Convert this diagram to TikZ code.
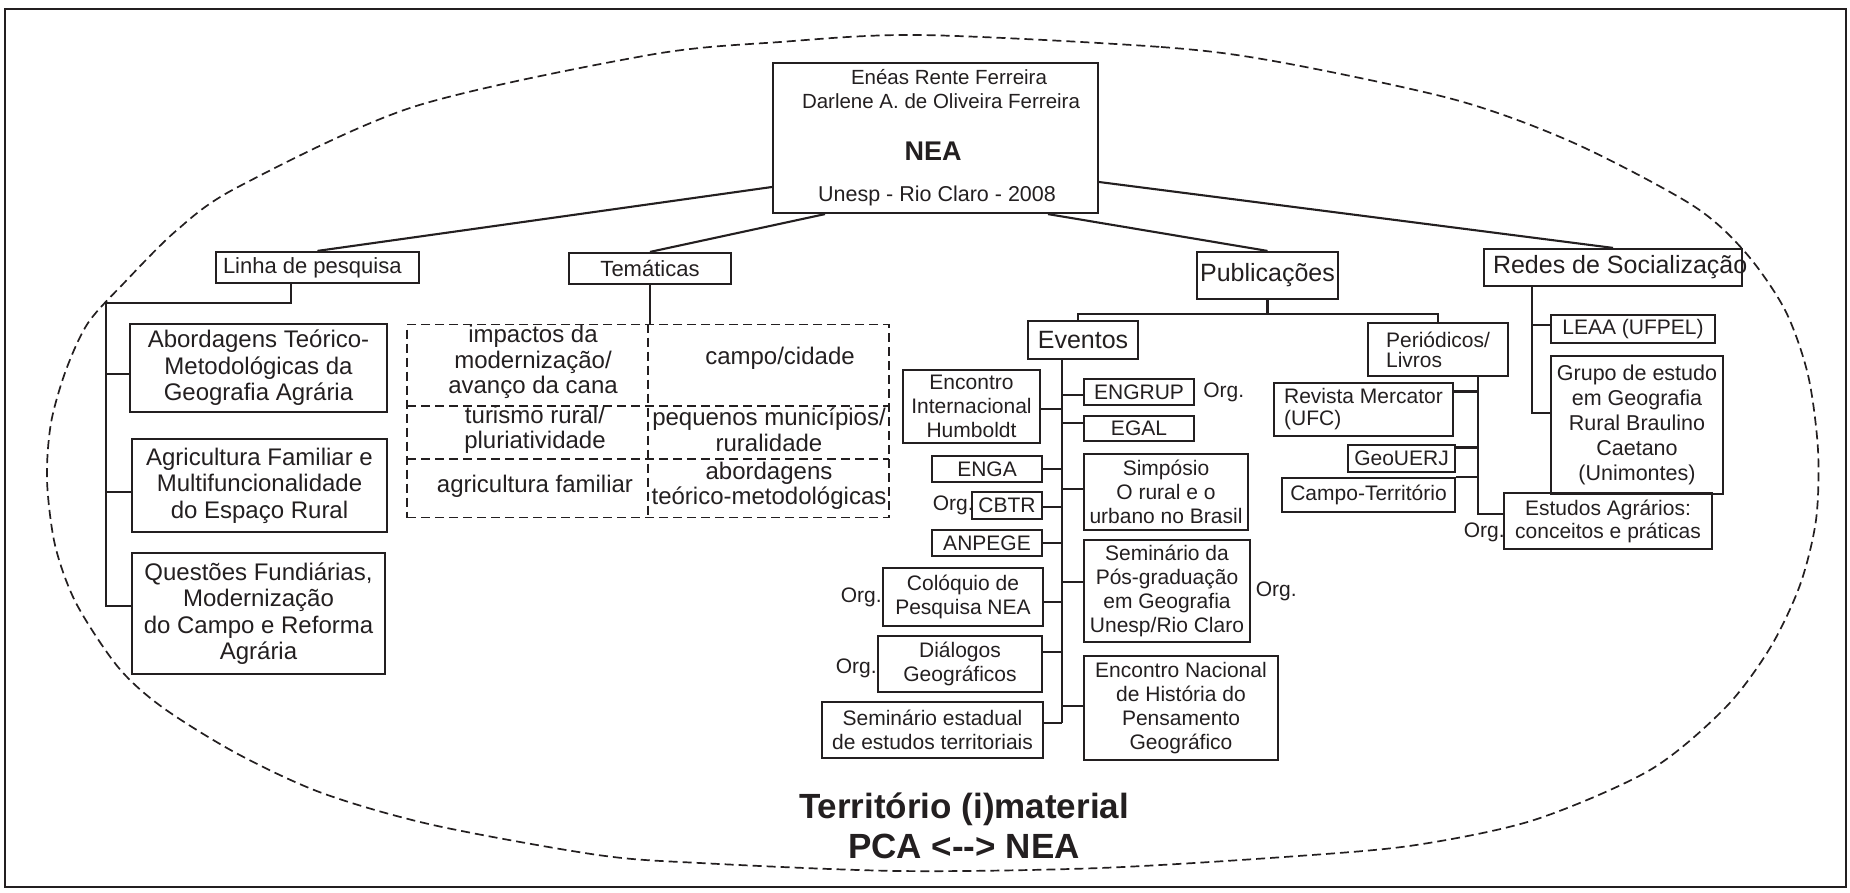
\documentclass[tikz,border=0pt]{standalone}
\usepackage{fontspec}
\setmainfont{Liberation Sans}
\usepackage{tikz}
\usetikzlibrary{positioning}
\definecolor{ink}{RGB}{35,31,32}

\begin{document}
\begin{tikzpicture}[
  x=1pt, y=-1pt,
  every node/.style={text=ink},
  box/.style={draw=ink, line width=2.2pt, inner sep=0pt, align=center},
  evbox/.style={box, font=\fontsize{21}{24}\selectfont},
  linbox/.style={box, font=\fontsize{24}{26.5}\selectfont},
  headbox/.style={box, font=\fontsize{25}{28}\selectfont},
  subhead/.style={box, font=\fontsize{22}{25}\selectfont},
  cell/.style={inner sep=0pt, align=center, font=\fontsize{24}{25.5}\selectfont},
  org/.style={inner sep=0pt, font=\fontsize{21}{24}\selectfont},
  link/.style={draw=ink, line width=2.1pt},
  dashline/.style={draw=ink, line width=1.7pt, dash pattern=on 9pt off 5pt}
]
\useasboundingbox (0,0) rectangle (1850,892);
\draw[ink, line width=2.2pt] (5,9) rectangle (1846,887);

% territory outline
\draw[dashline] plot[smooth cycle, tension=0.5] coordinates {
  (920,35) (1161,47) (1279,62) (1456,100) (1574,143) (1692,205) (1745,252)
  (1785,310) (1808,375) (1818,450) (1816,520) (1800,585) (1770,648)
  (1725,708) (1650,770) (1534,820) (1416,845) (1298,856) (1100,868)
  (900,871) (700,863) (598,855) (433,825) (322,793) (236,753) (162,707)
  (118,667) (76,603) (55,545) (47,480) (51,423) (66,370) (88,323)
  (124,283) (177,230) (238,187) (413,107) (649,55) (780,42)};

% NEA
\node[box, minimum width=325, minimum height=150] (nea) at (935.5,138) {};
\node[font=\fontsize{20.5}{24}\selectfont] (auth1) at (949,77) {Enéas Rente Ferreira};
\node[font=\fontsize{20.5}{24}\selectfont] (auth2) at (941,101) {Darlene A. de Oliveira Ferreira};
\node[font=\fontsize{27}{30}\selectfont\bfseries] (neaname) at (933,151) {NEA};
\node[font=\fontsize{21.5}{24}\selectfont] (neaplace) at (937,196) {Unesp - Rio Claro - 2008};

\node[subhead, minimum width=203, minimum height=31, inner xsep=7pt] (linha) at (317.5,267.5)
  {\makebox[189pt][l]{Linha de pesquisa}};
\node[subhead, minimum width=162, minimum height=31] (tema) at (650,268.5) {Temáticas};
\node[headbox, minimum width=141, minimum height=47] (pub) at (1267.5,275.5) {Publicações};
\node[headbox, minimum width=258, minimum height=37, inner xsep=9pt] (redes) at (1613,267.5)
  {\makebox[240pt][l]{Redes de Socialização}};

\draw[link] ([yshift=-49pt]nea.west) -- (linha.north);
\draw[link] ([xshift=-110.5pt]nea.south) -- (tema.north);
\draw[link] ([xshift=112.5pt]nea.south) -- (pub.north);
\draw[link] ([yshift=-44pt]nea.east) -- (redes.north);

% Linha de pesquisa
\node[linbox, minimum width=257, minimum height=88] (abord) at (258.5,368)
  {Abordagens Teórico-\\Metodológicas da\\Geografia Agrária};
\node[linbox, minimum width=255, minimum height=93] (agri) at (259.5,485.5)
  {Agricultura Familiar e\\Multifuncionalidade\\do Espaço Rural};
\node[linbox, minimum width=253, minimum height=121] (quest) at (258.5,613.5)
  {Questões Fundiárias,\\Modernização\\do Campo e Reforma\\Agrária};

\coordinate (lstub) at ([xshift=-26.5pt]linha.south);
\coordinate (lknee) at (106,303);
\draw[link] (lstub) |- (lknee) |- ([yshift=7.5pt]quest.west);
\foreach \nd/\dy in {abord/-6, agri/-6.5}
  \draw[link] ([yshift=\dy pt]\nd.west) coordinate (hook) -- (hook -| lknee);

% Temáticas
\node[dashline, minimum width=482, minimum height=193, inner sep=0pt] (grid) at (648,421) {};
\draw[dashline] (grid.north) -- (grid.south);
\draw[dashline] (407,406) -- (889,406);
\draw[dashline] (407,459) -- (889,459);
\draw[link] (tema.south) -- (tema.south |- grid.north);

\node[cell] (c11) at (533,362) {impactos da\\modernização/\\avanço da cana};
\node[cell] (c12) at (780,358) {campo/cidade};
\node[cell] (c21) at (535,430) {turismo rural/\\pluriatividade};
\node[cell] (c22) at (769,430) {pequenos municípios/\\ruralidade};
\node[cell] (c31) at (535,486) {agricultura familiar};
\node[cell] (c32) at (769,486) {abordagens\\teórico-metodológicas};

% Publicações
\node[headbox, minimum width=110, minimum height=38] (eventos) at (1083,340) {Eventos};
\node[evbox, align=left, font=\fontsize{21}{20}\selectfont, minimum width=140, minimum height=53]
  (perio) at (1438,349.5) {Periódicos/\\Livros};
\coordinate (pknee) at ([yshift=-14pt]pub.south);
\draw[link] (pub.south) -- (pknee);
\draw[link] ([xshift=-5pt]eventos.north) |- (pknee) -| (perio.north);

% Eventos
\node[evbox, minimum width=137, minimum height=73] (humb) at (971.5,406.5) {Encontro\\Internacional\\Humboldt};
\node[evbox, minimum width=110, minimum height=26] (engrup) at (1139,392) {ENGRUP};
\node[evbox, minimum width=110, minimum height=25] (egal) at (1139,428.5) {EGAL};
\node[evbox, minimum width=110, minimum height=26] (enga) at (987,469) {ENGA};
\node[evbox, minimum width=70, minimum height=27] (cbtr) at (1007,505.5) {CBTR};
\node[evbox, minimum width=110, minimum height=26] (anpege) at (987,543) {ANPEGE};
\node[evbox, minimum width=164, minimum height=76] (simp) at (1166,492) {Simpósio\\O rural e o\\urbano no Brasil};
\node[evbox, minimum width=166, minimum height=102] (sempos) at (1167,591)
  {Seminário da\\Pós-graduação\\em Geografia\\Unesp/Rio Claro};
\node[evbox, minimum width=160, minimum height=58] (coloq) at (963,597) {Colóquio de\\Pesquisa NEA};
\node[evbox, minimum width=164, minimum height=56] (dialog) at (960,664) {Diálogos\\Geográficos};
\node[evbox, minimum width=221, minimum height=56] (semest) at (932.5,730)
  {Seminário estadual\\de estudos territoriais};
\node[evbox, minimum width=194, minimum height=104] (encnac) at (1181,708)
  {Encontro Nacional\\de História do\\Pensamento\\Geográfico};

\coordinate (etop) at ([xshift=-21pt]eventos.south);
\coordinate (ebot) at ([yshift=7pt]semest.east);
\draw[link] (etop) -- (etop |- ebot);
\foreach \nd/\dy in {humb/-2.5, enga/0, cbtr/-1.5, anpege/0, coloq/-5, dialog/12, semest/7}
  \draw[link] ([yshift=\dy pt]\nd.east) coordinate (hook) -- (hook -| etop);
\foreach \nd/\dy in {engrup/-3, egal/5.5, simp/3, sempos/9, encnac/2}
  \draw[link] ([yshift=\dy pt]\nd.west) coordinate (hook) -- (hook -| etop);

\node[org, right=8pt of engrup] (orgengrup) {Org.};
\node[org, left=-3pt of cbtr] (orgcbtr) {Org.};
\node[org, left=0pt of coloq] (orgcoloq) {Org.};
\node[org, left=0pt of dialog, yshift=-4pt] (orgdialog) {Org.};
\node[org, right=4.5pt of sempos] (orgsempos) {Org.};

% Periódicos / Livros
\node[evbox, align=left, font=\fontsize{21}{22}\selectfont, minimum width=179, minimum height=53]
  (revista) at (1363.5,409.5) {Revista Mercator\\(UFC)};
\node[evbox, minimum width=107, minimum height=27] (geouerj) at (1401.5,458.5) {GeoUERJ};
\node[evbox, minimum width=173, minimum height=34] (campo) at (1368.5,495) {Campo-Território};
\node[evbox, font=\fontsize{21}{23}\selectfont, minimum width=208, minimum height=56]
  (estud) at (1608,521) {Estudos Agrários:\\conceitos e práticas};
\node[org, left=-2pt of estud, yshift=-11pt] (orgestud) {Org.};

\coordinate (ptop) at ([xshift=40pt]perio.south);
\draw[link] (ptop) |- ([yshift=7pt]estud.west);
\draw[link] ([yshift=18pt]revista.east) coordinate (hook) -- (hook -| ptop);
\draw[link] ([yshift=11pt]geouerj.east) coordinate (hook) -- (hook -| ptop);
\draw[link] (campo.north east) -- (campo.north east -| ptop);

% Redes de Socialização
\node[evbox, minimum width=164, minimum height=28] (leaa) at (1633,329) {LEAA (UFPEL)};
\node[evbox, font=\fontsize{21.5}{25}\selectfont, minimum width=172, minimum height=138]
  (grupo) at (1637,425) {Grupo de estudo\\em Geografia\\Rural Braulino\\Caetano\\(Unimontes)};
\coordinate (rtop) at ([xshift=-81pt]redes.south);
\draw[link] (rtop) |- ([yshift=12pt]grupo.west);
\draw[link] ([yshift=4pt]leaa.west) coordinate (hook) -- (hook -| rtop);

\node[font=\fontsize{35}{40}\selectfont\bfseries, align=center] (territorio) at (964,826)
  {Território (i)material\\PCA <{-}{-}> NEA};
\end{tikzpicture}
\end{document}
